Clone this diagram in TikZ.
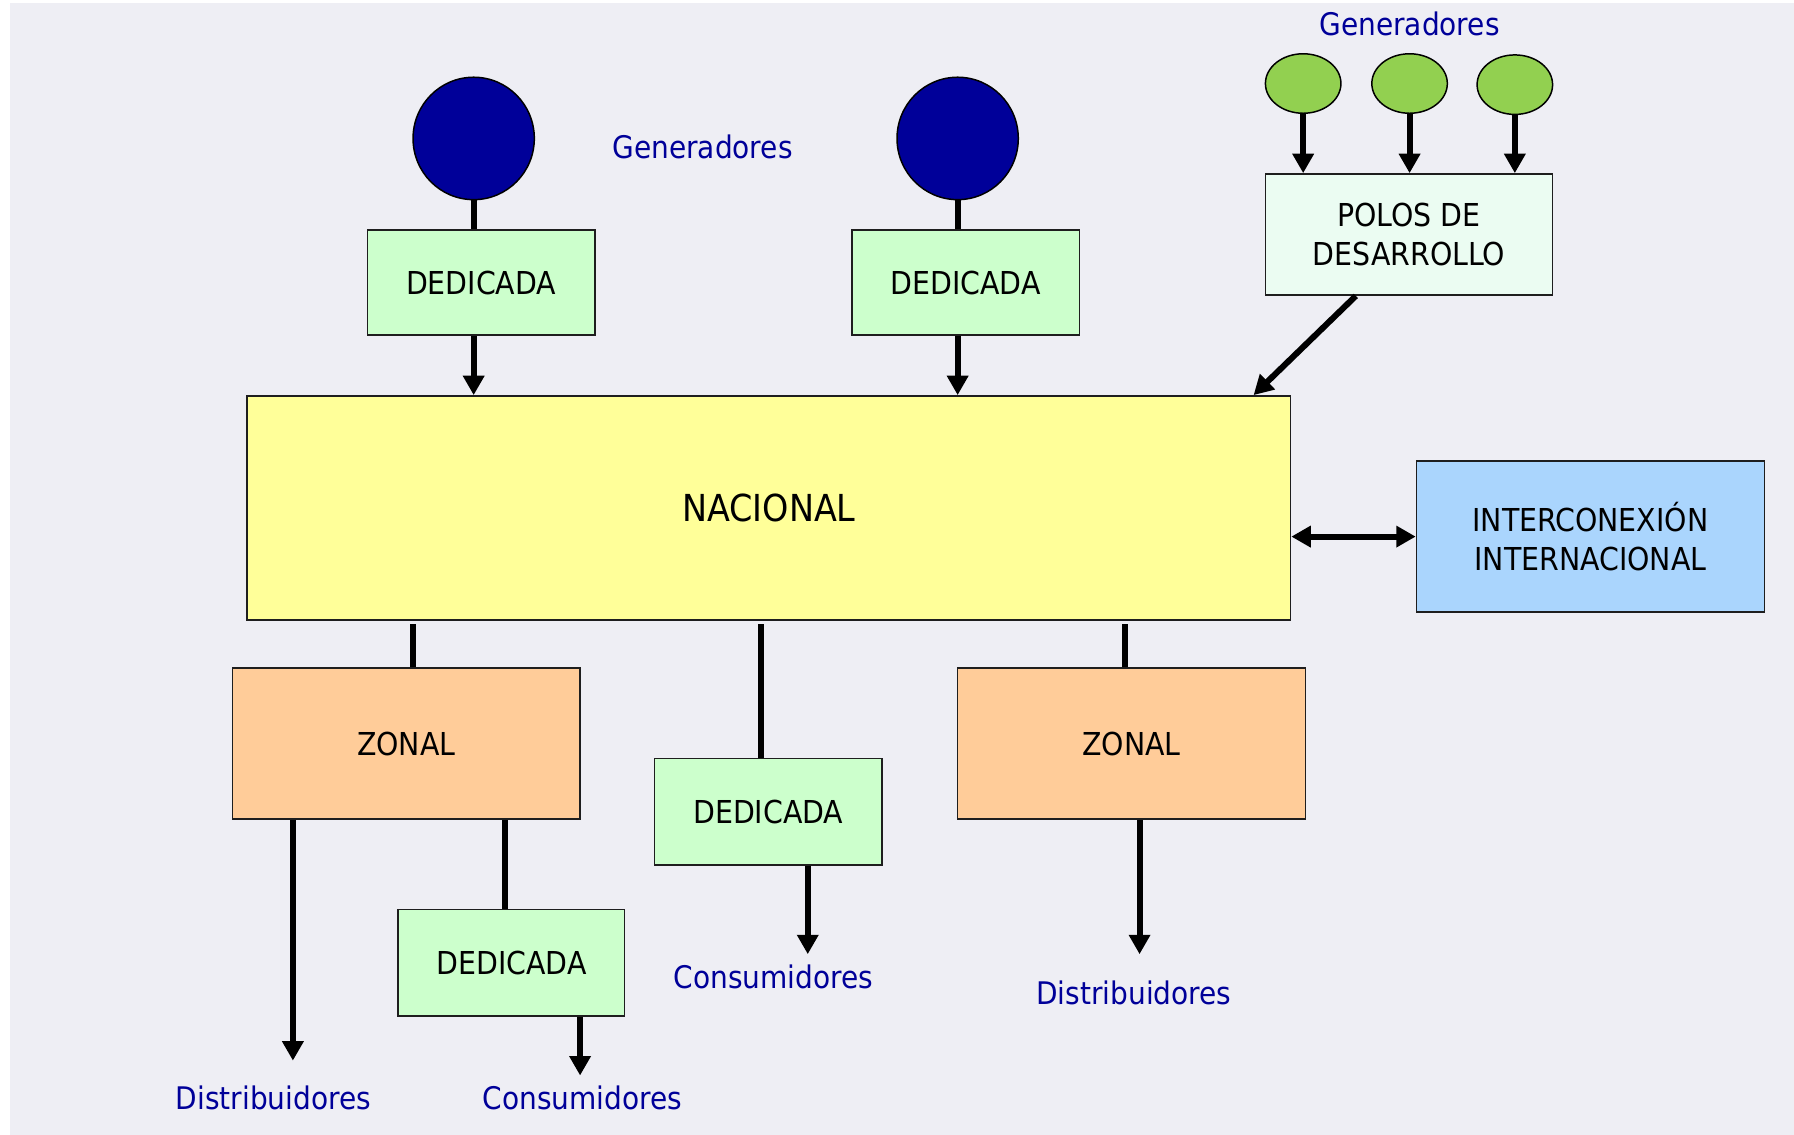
\documentclass[tikz,border=0pt]{standalone}
\usepackage{fontspec}
\setmainfont{DejaVu Sans Condensed}
\usetikzlibrary{arrows.meta,shapes.geometric,calc}

\definecolor{bgcol}{RGB}{238,238,244}
\definecolor{labelblue}{RGB}{0,0,153}
\definecolor{navy}{RGB}{0,0,153}
\definecolor{leafgreen}{RGB}{146,208,80}
\definecolor{dedgreen}{RGB}{204,255,204}
\definecolor{polosmint}{RGB}{235,252,242}
\definecolor{nacyellow}{RGB}{255,255,153}
\definecolor{intblue}{RGB}{170,213,253}
\definecolor{zonorange}{RGB}{255,204,153}
\definecolor{edge}{RGB}{30,30,30}

\tikzset{
  box/.style={draw=edge, line width=1.3pt, inner sep=0pt, align=center,
    font=\fontsize{27.6}{33.5}\selectfont},
  dedbox/.style={box, fill=dedgreen, minimum width=199pt, minimum height=92pt},
  zonbox/.style={box, fill=zonorange, minimum width=304pt, minimum height=132pt},
  bigdot/.style={ellipse, draw=black, line width=1.3pt, fill=navy, inner sep=0pt,
    minimum width=106pt, minimum height=107pt},
  smalldot/.style={ellipse, draw=black, line width=1.3pt, fill=leafgreen, inner sep=0pt,
    minimum width=66pt, minimum height=52pt},
  tag/.style={text=labelblue, inner sep=0pt, font=\fontsize{27.2}{33}\selectfont},
  link/.style={line width=5.3pt, draw=black},
  flow/.style={link, -{Triangle[width=18pt,length=17pt]}},
  twoway/.style={link, {Triangle[width=18pt,length=17pt]}-{Triangle[width=18pt,length=17pt]}},
}

\begin{document}
\begin{tikzpicture}[x=1pt, y=-1pt]
  % canvas
  \useasboundingbox (0,0) rectangle (1568,992);
  \fill[white] (0,0) rectangle (1568,992);
  \fill[bgcol] (8.7,2.6) rectangle (1568,992);

  % generators feeding the dedicated lines
  \node[bigdot] (c1) at (414,121) {};
  \node[bigdot] (c2) at (837,121) {};
  \node[tag] (gen1) at (614,128) {Generadores};

  \node[dedbox] (d1) at (420.5,247) {DEDICADA};
  \node[dedbox] (d2) at (844,247) {DEDICADA};

  % development poles
  \node[tag] (gen2) at (1232,21) {Generadores};
  \node[smalldot] (g1) at (1139,73) {};
  \node[smalldot] (g2) at (1232,73) {};
  \node[smalldot] (g3) at (1324,74) {};
  \node[box, fill=polosmint, minimum width=251pt, minimum height=106pt]
    (polos) at (1231.5,205) {POLOS DE\\DESARROLLO};

  % national system
  \node[box, fill=nacyellow, minimum width=912pt, minimum height=196pt,
    font=\fontsize{32.5}{38}\selectfont] (nac) at (672,444) {NACIONAL};
  \node[box, fill=intblue, minimum width=304pt, minimum height=132pt]
    (inter) at (1390,469) {INTERCONEXIÓN\\INTERNACIONAL};

  % lower level
  \node[zonbox] (z1) at (355,650) {ZONAL};
  \node[zonbox] (z2) at (989,650) {ZONAL};
  \node[dedbox, minimum height=93pt] (d3) at (671.5,709.5) {DEDICADA};
  \node[dedbox, minimum width=198pt, minimum height=93pt] (d4) at (447,841.5) {DEDICADA};

  \node[tag] (cons1) at (676,854) {Consumidores};
  \node[tag] (dist2) at (991,868) {Distribuidores};
  \node[tag] (dist1) at (239,960) {Distribuidores};
  \node[tag] (cons2) at (509,960) {Consumidores};

  % free ends of the outgoing arrows
  \coordinate (tipdist1) at (256,927);
  \coordinate (tipcons2) at (507,940);
  \coordinate (tipcons1) at (706,834);
  \coordinate (tipdist2) at (996,834);

  % connectors
  \draw[link] (c1.south) -- (c1.south |- d1.north);
  \draw[link] (c2.south) -- (c2.south |- d2.north);
  \draw[flow] (c1 |- d1.south) -- (c1 |- nac.north);
  \draw[flow] (c2 |- d2.south) -- (c2 |- nac.north);

  \draw[flow] (g1.south) -- (g1 |- polos.north);
  \draw[flow] (g2.south) -- (g2 |- polos.north);
  \draw[flow] (g3.south) -- (g3 |- polos.north);
  \draw[flow] ([xshift=-46.5pt]polos.south) -- ([xshift=-33pt]nac.north east);

  \draw[twoway] (inter.west -| nac.east) -- (inter.west);

  % feeders leave the national box just below its border
  \draw[link] ([xshift=6pt,yshift=-3pt]z1.north |- nac.south) -- ([xshift=6pt]z1.north);
  \draw[link] ([xshift=-6.5pt,yshift=-3pt]d3.north |- nac.south) -- ([xshift=-6.5pt]d3.north);
  \draw[link] ([xshift=-6pt,yshift=-3pt]z2.north |- nac.south) -- ([xshift=-6pt]z2.north);
  \draw[link] ([xshift=-6pt]d4.north |- z1.south) -- ([xshift=-6pt]d4.north);

  \draw[flow] (tipdist1 |- z1.south) -- (tipdist1);
  \draw[flow] (tipcons2 |- d4.south) -- (tipcons2);
  \draw[flow] (tipcons1 |- d3.south) -- (tipcons1);
  \draw[flow] (tipdist2 |- z2.south) -- (tipdist2);
\end{tikzpicture}
\end{document}
